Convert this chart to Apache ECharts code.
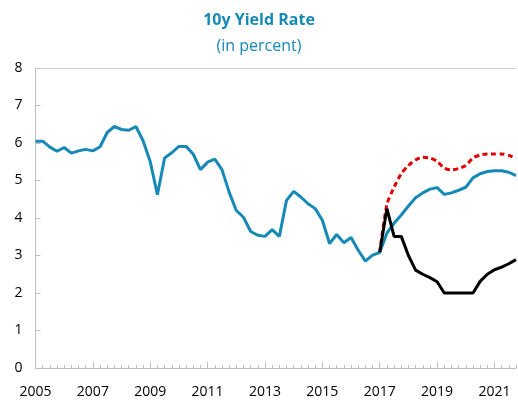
<!DOCTYPE html>
<html>
<head>
<meta charset="utf-8">
<script src="https://cdn.jsdelivr.net/npm/echarts@6/dist/echarts.min.js"></script>
<style>
html,body{margin:0;padding:0;background:#fff;}
#c{width:518px;height:401px;}
</style>
</head>
<body>
<div id="c"></div>
<script>
// Quarterly periods 2005Q1 .. 2021Q4
var quarters = [];
for (var y = 2005; y <= 2021; y++) { for (var q = 1; q <= 4; q++) { quarters.push(y + 'Q' + q); } }

// Historical + baseline (teal)
var baseline = [6.05,6.05,5.89,5.78,5.88,5.73,5.79,5.83,5.79,5.90,
  6.28,6.44,6.36,6.34,6.44,6.06,5.50,4.62,5.60,5.74,
  5.91,5.91,5.70,5.29,5.49,5.57,5.29,4.69,4.20,4.02,
  3.64,3.54,3.51,3.69,3.51,4.47,4.71,4.56,4.38,4.25,
  3.94,3.32,3.56,3.34,3.48,3.14,2.85,3.01,3.08,3.60,
  3.86,4.08,4.32,4.54,4.67,4.77,4.81,4.63,4.67,4.74,
  4.82,5.07,5.18,5.24,5.26,5.26,5.22,5.13];

// Upside scenario (red dashed), from 2017Q1
var highStart = 48;
var highValues = [3.08,4.36,4.82,5.18,5.40,5.55,5.62,5.60,5.51,5.33,
  5.28,5.32,5.40,5.60,5.68,5.71,5.71,5.71,5.67,5.59];

// Downside scenario (black), from 2017Q1
var lowStart = 48;
var lowValues = [3.09,4.25,3.51,3.51,3.00,2.61,2.50,2.41,2.30,2.00,
  2.00,2.00,2.00,2.00,2.31,2.50,2.62,2.69,2.78,2.89];

function pad(start, vals) {
  var out = [];
  for (var i = 0; i < quarters.length; i++) {
    var k = i - start;
    out.push(k >= 0 && k < vals.length ? vals[k] : null);
  }
  return out;
}

var teal = '#1689b6';
var axisGray = '#bfbfbf';
var chart = echarts.init(document.getElementById('c'), null, {renderer: 'canvas'});
chart.setOption({
  animation: false,
  title: [
    {text: '10y Yield Rate', left: 'center', top: 7,
     textStyle: {fontFamily: 'Open Sans', fontWeight: 'bold', fontSize: 16, color: teal}},
    {text: '(in percent)', left: 'center', top: 33,
     textStyle: {fontFamily: 'Open Sans', fontWeight: 'normal', fontSize: 16, color: teal}}
  ],
  grid: {left: 35.5, right: 2, top: 68, bottom: 33},
  xAxis: [
    {type: 'category', data: quarters, boundaryGap: false, position: 'bottom',
     axisLine: {lineStyle: {color: axisGray, width: 1}},
     axisTick: {inside: true, interval: 0, length: 3, lineStyle: {color: axisGray}},
     axisLabel: {interval: 7, margin: 17, color: '#000', fontFamily: 'Open Sans', fontSize: 14,
       formatter: function (v) { return v.slice(0, 4); }},
     splitLine: {show: false}},
    {type: 'category', data: quarters, boundaryGap: false, position: 'bottom',
     axisLine: {show: false},
     axisTick: {inside: true, interval: 7, length: 6, lineStyle: {color: axisGray}},
     axisLabel: {show: false}, splitLine: {show: false}},
    {type: 'category', data: quarters, boundaryGap: false, position: 'top',
     axisLine: {show: true, lineStyle: {color: '#d0d0d0', width: 1}},
     axisTick: {show: false}, axisLabel: {show: false}, splitLine: {show: false}}
  ],
  yAxis: {type: 'value', min: 0, max: 8, interval: 1,
    axisLine: {show: true, lineStyle: {color: axisGray}},
    axisTick: {show: true, inside: true, length: 5, lineStyle: {color: axisGray}},
    axisLabel: {color: '#000', fontFamily: 'Open Sans', fontSize: 14, margin: 13},
    splitLine: {show: false}},
  series: [
    {name: 'Upside', type: 'line', data: pad(highStart, highValues), showSymbol: false,
     smooth: 0.25, lineStyle: {color: '#e00000', width: 3, type: [5, 3.5], cap: 'butt'}, z: 2},
    {name: 'Baseline', type: 'line', data: baseline, showSymbol: false,
     lineStyle: {color: teal, width: 3}, z: 3},
    {name: 'Downside', type: 'line', data: pad(lowStart, lowValues), showSymbol: false,
     lineStyle: {color: '#000', width: 3}, z: 4}
  ]
});
</script>
</body>
</html>
